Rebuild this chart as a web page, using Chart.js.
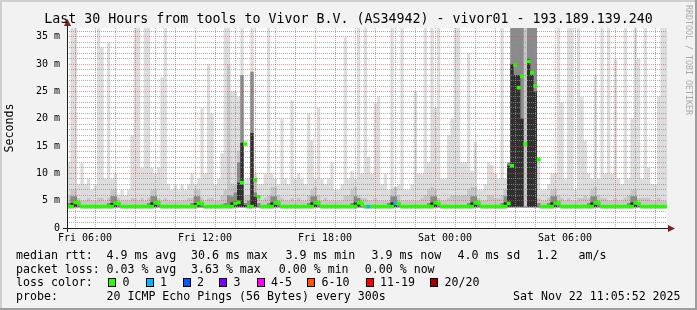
<!DOCTYPE html>
<html><head><meta charset="utf-8">
<script src="https://cdn.jsdelivr.net/npm/chart.js@4/dist/chart.umd.min.js"></script>
<style>
html,body{margin:0;padding:0;background:#f2f2f2;}
#wrap{position:relative;width:697px;height:310px;overflow:hidden;}
canvas{position:absolute;left:0;top:0;}
.t{position:absolute;font-family:"DejaVu Sans Mono",monospace;font-size:11.6px;line-height:14px;color:#000;white-space:pre;}
#title{position:absolute;left:0;top:11px;width:697px;text-align:center;font-family:"DejaVu Sans Mono",monospace;font-size:13.3px;line-height:16px;color:#000;white-space:pre;}
.box{position:absolute;width:6px;height:7px;border:1px solid #000;}
#rrd{position:absolute;left:684px;top:5px;writing-mode:vertical-rl;font-family:"DejaVu Sans Mono",monospace;font-size:8.3px;line-height:10px;color:#aaaaaa;white-space:pre;}
</style></head><body>
<div id="wrap">
<canvas id="c" width="697" height="310"></canvas>
<div id="title"></div>
<div id="legend"></div>
<div id="rrd">RRDTOOL / TOBI OETIKER</div>
</div>
<script>
// ---------- data ----------
const TITLE = 'Last 30 Hours from tools to Vivor B.V. (AS34942) - vivor01 - 193.189.139.240';
const STEP_MIN = 10;          // minutes per sample
const SPAN_MIN = 1800;        // 30 hours
const FIRST_TICK_MIN = 54.13; // Fri 06:00 after start Fri 05:05:52
const Y_MAX = 36.63;
const MIN_RTT = 3.8;
const xTickLabels = ['Fri 06:00','Fri 12:00','Fri 18:00','Sat 00:00','Sat 06:00'];
const yTickValues = [0,5,10,15,20,25,30,35];
const yTickLabels = ['0','5 m','10 m','15 m','20 m','25 m','30 m','35 m'];

// smoke: highest ping per step (ms)
const maxPing = [
 37,12,37,37,8,12,8,9,7,8,
 37,33,9,34,9,10,6,7,6,7,
 17,37,37,11,37,37,11,10,11,27.6,
 37,8,7,8,7,8,7,8,10,8,
 9,22,10,30,21,8,9,13.7,37,37,
 25,25,24,37,9,9,37,10,8,8,
 10,37,10,9,8,20,9,8,23.4,9,
 10,9,8,21,16,9,22,9,8,9,
 12,7,7,8,35,9,10.5,9,37,10,
 37,13,10,23,24,8,10,7,37,7,
 8,37,7,7,8,25,10,10,37,12,
 37,22,37,9,9,17,20,37,37,12,
 12,32,10.5,15.8,7,7,8,12,11.6,10,
 9,37,9,12,37,37,37,37,37,37,
 37,37,12,7,7,8,10,10,37,23,
 9,37,37,7,37,24,16,10,9,28,
 9,37,10,37,10,31,9,8,37,9,
 20,37,31,9,37,11,8,8,24,37
];
// smoke: upper band
const upperPing = [
 5.5,6,7,7,5.5,5,5,5.5,5,5,
 5.5,5.5,5,5.5,7,7,5.5,5,5,5,
 5.5,5.5,5,5.5,5,5.5,7,7,5.5,5,
 5.5,5,5,5,5,5,5,5.5,5.5,7,
 7,5.5,5,5.5,5.5,5,5,6,7,30,
 8,8,14,28,6,6,28.6,9,5.5,5,
 5.5,6,7.5,7.5,6,5.5,5,5,5.5,5,
 5.5,5,5,6,7,7.5,6,5,5.5,5,
 5,5,5,5,6,6,7,7.5,6,5.5,
 5.5,5,5,5.5,5,5,5,5,7,7.5,
 6,5,5,5,5,5,5,5.5,6,7,
 7.5,7,5.5,5,5,5.5,6,6,6,6,
 6,7,7.5,7.5,5.5,5,5,6,6,5.5,
 5.5,6,7,12,37,37,37,37,37,37,
 37,37,5.5,5,5,5.5,7,7,6,5.5,
 5,5.5,5,5,5.5,5.5,6,5.5,7,7.5,
 6,5.5,5.5,5,5,5.5,5,5,5.5,6,
 7,7,5.5,5.5,5.5,5.5,5,5,5.5,5
];
// smoke: middle band
const midPing = [
 3.9,4.6,5.8,5.8,4.6,3.9,3.9,3.9,3.9,3.9,
 3.9,3.9,3.9,4.6,5.8,5.8,4.6,3.9,3.9,3.9,
 3.9,3.9,3.9,3.9,3.9,4.6,5.8,5.8,4.6,3.9,
 3.9,3.9,3.9,3.9,3.9,3.9,3.9,3.9,4.6,5.8,
 5.8,4.6,3.9,3.9,3.9,3.9,3.9,4.3,4.6,6,
 5.8,6.5,12,28,4.6,5,28.6,6.5,4.6,3.9,
 3.9,4.6,5.8,5.8,4.6,3.9,3.9,3.9,3.9,3.9,
 3.9,3.9,3.9,4.6,5.8,5.8,4.6,3.9,3.9,3.9,
 3.9,3.9,3.9,3.9,3.9,3.9,4.6,5.8,5.5,3.9,
 3.9,3.9,3.9,3.9,3.9,3.9,3.9,4.6,5.8,5.8,
 4.6,3.9,3.9,3.9,3.9,3.9,3.9,3.9,3.9,4.6,
 5.8,5.8,4.6,3.9,3.9,3.9,3.9,3.9,3.9,3.9,
 3.9,4.6,5.8,5.8,4.6,3.9,3.9,3.9,3.9,3.9,
 3.9,4.6,5.8,12,37,37,37,37,3.9,37,
 37,37,4.6,3.9,3.9,4.6,5.8,5.8,4.6,3.9,
 3.9,3.9,3.9,3.9,3.9,3.9,3.9,4.6,5.8,5.8,
 4.6,3.9,3.9,3.9,3.9,3.9,3.9,3.9,3.9,4.6,
 5.8,5.8,4.6,3.9,3.9,3.9,3.9,3.9,3.9,3.9
];
// smoke: dense core
const corePing = [
 3.9,3.9,4.6,4.7,3.9,3.9,3.9,3.9,3.9,3.9,
 3.9,3.9,3.9,3.9,4.6,4.7,3.9,3.9,3.9,3.9,
 3.9,3.9,3.9,3.9,3.9,3.9,4.7,4.6,3.9,3.9,
 3.9,3.9,3.9,3.9,3.9,3.9,3.9,3.9,3.9,4.6,
 4.7,3.9,3.9,3.9,3.9,3.9,3.9,3.9,3.9,3.9,
 4.7,4.9,8.3,15.6,4.2,4.2,17.4,5.7,3.9,3.9,
 3.9,3.9,4.7,4.7,3.9,3.9,3.9,3.9,3.9,3.9,
 3.9,3.9,3.9,3.9,4.7,4.7,3.9,3.9,3.9,3.9,
 3.9,3.9,3.9,3.9,3.9,3.9,3.9,4.7,4.5,3.9,
 3.9,3.9,3.9,3.9,3.9,3.9,3.9,3.9,4.7,4.7,
 3.9,3.9,3.9,3.9,3.9,3.9,3.9,3.9,3.9,3.9,
 4.7,4.7,3.9,3.9,3.9,3.9,3.9,3.9,3.9,3.9,
 3.9,3.9,4.7,4.7,3.9,3.9,3.9,3.9,3.9,3.9,
 3.9,3.9,4.7,11.4,30,28,28,20,3.9,31,
 28.5,25,3.9,3.9,3.9,3.9,4.7,4.7,3.9,3.9,
 3.9,3.9,3.9,3.9,3.9,3.9,3.9,3.9,4.7,4.7,
 3.9,3.9,3.9,3.9,3.9,3.9,3.9,3.9,3.9,3.9,
 4.7,4.7,3.9,3.9,3.9,3.9,3.9,3.9,3.9,3.9
];
// median rtt (ms)
const medianRtt = [
 3.9,3.9,4.7,4.6,3.9,3.9,3.9,3.9,3.9,3.9,
 3.9,3.9,3.9,3.9,4.5,4.5,3.9,3.9,3.9,3.9,
 3.9,3.9,3.9,3.9,3.9,3.9,4.6,4.6,3.9,3.9,
 3.9,3.9,3.9,3.9,3.9,3.9,3.9,3.9,3.9,4.5,
 4.5,3.9,3.9,3.9,3.9,3.9,3.9,3.9,3.9,3.9,
 4.5,4.7,8.3,15.4,3.9,3.9,8.8,5.7,3.9,3.9,
 3.9,3.9,4.6,4.6,3.9,3.9,3.9,3.9,3.9,3.9,
 3.9,3.9,3.9,3.9,4.6,4.6,3.9,3.9,3.9,3.9,
 3.9,3.9,3.9,3.9,3.9,3.9,3.9,4.6,4.5,3.9,
 3.9,3.9,3.9,3.9,3.9,3.9,3.9,3.9,4.5,4.5,
 3.9,3.9,3.9,3.9,3.9,3.9,3.9,3.9,3.9,3.9,
 4.6,4.5,3.9,3.9,3.9,3.9,3.9,3.9,3.9,3.9,
 3.9,3.9,4.6,4.6,3.9,3.9,3.9,3.9,3.9,3.9,
 3.9,3.9,4.5,11.4,29.8,25.7,27.8,15.4,30.5,28.4,
 26,12.5,3.9,3.9,3.9,3.9,4.5,4.6,3.9,3.9,
 3.9,3.9,3.9,3.9,3.9,3.9,3.9,3.9,4.6,4.6,
 3.9,3.9,3.9,3.9,3.9,3.9,3.9,3.9,3.9,3.9,
 4.6,4.5,3.9,3.9,3.9,3.9,3.9,3.9,3.9,3.9
];
// steps with packet loss (index, lost pings)
const lossSteps = [90, 98];
const lossLost = [1, 1];
// loss colour legend
const lossUpper = [0, 1, 2, 3, 5, 10, 19, 20];
const lossLabels = ['0','1','2','3','4-5','6-10','11-19','20/20'];
const lossColors = ['#26ff00','#00b8ff','#0059ff','#7e00ff','#ff00ff','#ff5500','#ff0000','#a10000'];
// text legend rows: [x, text]
const legendRows = [
 [[16,'median rtt:'],[106.5,'4.9 ms avg'],[191,'30.6 ms max'],[285.5,'3.9 ms min'],[371.5,'3.9 ms now'],[457.5,'4.0 ms sd'],[536.5,'1.2'],[578.5,'am/s']],
 [[16,'packet loss:'],[106.5,'0.03 % avg'],[191,'3.63 % max'],[278.8,'0.00 % min'],[364.8,'0.00 % now']],
 [[16,'loss color:']],
 [[16,'probe:'],[106.5,'20 ICMP Echo Pings (56 Bytes) every 300s'],[513,'Sat Nov 22 11:05:52 2025']]
];
const lossBoxX = [108, 145.5, 182.5, 219, 256.5, 307, 365.5, 430];

// ---------- styling ----------
const MONO = '"DejaVu Sans Mono", monospace';
const GRID_MINOR = 'rgba(143,143,143,0.75)';
const GRID_MAJOR = 'rgba(222,79,79,0.6)';
const MED_HALF = 0.28;

// ---------- html text ----------
document.getElementById('title').textContent = TITLE;
const leg = document.getElementById('legend');
legendRows.forEach((row, r) => {
  row.forEach(([x, txt]) => {
    const s = document.createElement('div');
    s.className = 't'; s.style.left = x + 'px'; s.style.top = (247.6 + r * 13.9) + 'px';
    s.textContent = txt; leg.appendChild(s);
  });
});
lossLabels.forEach((lab, k) => {
  const b = document.createElement('div');
  b.className = 'box'; b.style.left = lossBoxX[k] + 'px'; b.style.top = '278px';
  b.style.background = lossColors[k]; leg.appendChild(b);
  const s = document.createElement('div');
  s.className = 't'; s.style.left = (lossBoxX[k] + 14.5) + 'px'; s.style.top = (247.6 + 2 * 13.9) + 'px';
  s.textContent = lab; leg.appendChild(s);
});

// ---------- chart ----------
const lossAt = i => { const k = lossSteps.indexOf(i); return k < 0 ? 0 : lossLost[k]; };
const lossColor = n => { for (let k = 0; k < lossUpper.length; k++) if (n <= lossUpper[k]) return lossColors[k]; return lossColors[lossColors.length - 1]; };
const stepData = arr => arr.map((v, i) => ({x: i * STEP_MIN, y: v})).concat([{x: SPAN_MIN, y: arr[arr.length - 1]}]);
const smoke = (arr, color, order) => ({
  type: 'line', data: stepData(arr), stepped: 'after', borderWidth: 0, borderColor: 'rgba(0,0,0,0)',
  backgroundColor: color, pointRadius: 0, fill: {value: MIN_RTT}, order
});
const hourTicks = [];
for (let k = 0; FIRST_TICK_MIN + 60 * k <= SPAN_MIN; k++) hourTicks.push(FIRST_TICK_MIN + 60 * k);
const yMinor = [];
for (let v = 0; v <= Math.floor(Y_MAX); v++) yMinor.push(v);

const framePlugin = {
  id: 'frame',
  beforeDraw(chart) {
    const {ctx, chartArea: a, width: W, height: H} = chart;
    ctx.save();
    ctx.fillStyle = '#f2f2f2'; ctx.fillRect(0, 0, W, H);
    ctx.fillStyle = '#cfcfcf'; ctx.fillRect(0, 0, W, 2); ctx.fillRect(0, 0, 2, H);
    ctx.fillStyle = '#9e9e9e'; ctx.fillRect(0, H - 2, W, 2); ctx.fillRect(W - 2, 0, 2, H);
    ctx.fillStyle = '#ffffff'; ctx.fillRect(a.left, a.top, a.right - a.left, a.bottom - a.top);
    ctx.restore();
  },
  afterDraw(chart) {
    const {ctx, chartArea: a} = chart;
    ctx.save();
    ctx.strokeStyle = '#1f1f1f'; ctx.lineWidth = 1;
    ctx.beginPath();
    ctx.moveTo(a.left - 4, a.bottom + 0.5); ctx.lineTo(a.right + 2, a.bottom + 0.5);
    ctx.moveTo(a.left + 0.5, a.bottom + 4); ctx.lineTo(a.left + 0.5, a.top - 3);
    ctx.stroke();
    ctx.fillStyle = '#801f1f';
    ctx.beginPath(); ctx.moveTo(a.right + 1, a.bottom - 3); ctx.lineTo(a.right + 8, a.bottom + 0.5); ctx.lineTo(a.right + 1, a.bottom + 4); ctx.closePath(); ctx.fill();
    ctx.beginPath(); ctx.moveTo(a.left - 3, a.top - 2); ctx.lineTo(a.left + 0.5, a.top - 9); ctx.lineTo(a.left + 4, a.top - 2); ctx.closePath(); ctx.fill();
    ctx.restore();
  }
};

new Chart(document.getElementById('c'), {
  type: 'line',
  data: {
    datasets: [
      smoke(maxPing, '#dddddd', 5),
      smoke(upperPing, '#c6c6c6', 4),
      smoke(midPing, '#8a8a8a', 3),
      smoke(corePing, '#303030', 2),
      {
        type: 'bar', order: 1,
        data: medianRtt.map((m, i) => ({x: i * STEP_MIN + STEP_MIN / 2, y: [m - MED_HALF, m + MED_HALF]})),
        backgroundColor: c => lossColor(lossAt(c.dataIndex)),
        borderWidth: 0, barPercentage: 1, categoryPercentage: 1
      }
    ]
  },
  options: {
    responsive: false, animation: false, events: [], devicePixelRatio: 1,
    layout: {padding: {top: 28, left: 0, right: 30, bottom: 62}},
    plugins: {legend: {display: false}, tooltip: {enabled: false}, title: {display: false}},
    scales: {
      x: {
        type: 'linear', min: 0, max: SPAN_MIN, offset: false,
        afterFit: s => { s.height = 20; },
        afterBuildTicks: s => { s.ticks = hourTicks.map(v => ({value: v})); },
        ticks: {autoSkip: false, maxRotation: 0, minRotation: 0, padding: 4, color: '#000',
          font: {family: MONO, size: 10},
          callback: (v, i) => (i % 6 === 0 ? xTickLabels[i / 6] : '')},
        grid: {z: 1, drawTicks: false, lineWidth: 1,
          color: c => { if (!c.tick) return GRID_MINOR; const k = Math.round((c.tick.value - FIRST_TICK_MIN) / 60); return k % 3 === 0 ? GRID_MAJOR : GRID_MINOR; }},
        border: {display: false, dash: [1, 1]}
      },
      y: {
        type: 'linear', min: 0, max: Y_MAX,
        afterFit: s => { s.width = 67; },
        afterBuildTicks: s => { s.ticks = yMinor.map(v => ({value: v})); },
        ticks: {autoSkip: false, padding: 7, color: '#000', font: {family: MONO, size: 10},
          callback: v => { const k = yTickValues.indexOf(v); return k < 0 ? '' : yTickLabels[k]; }},
        grid: {z: 1, drawTicks: false, lineWidth: 1,
          color: c => { if (!c.tick) return GRID_MINOR; return yTickValues.indexOf(c.tick.value) >= 0 ? GRID_MAJOR : GRID_MINOR; }},
        border: {display: false, dash: [1, 1]},
        title: {display: true, text: 'Seconds', color: '#000', font: {family: MONO, size: 11.6}, padding: {top: 3, bottom: 0}}
      }
    }
  },
  plugins: [framePlugin]
});
</script>
</body></html>
